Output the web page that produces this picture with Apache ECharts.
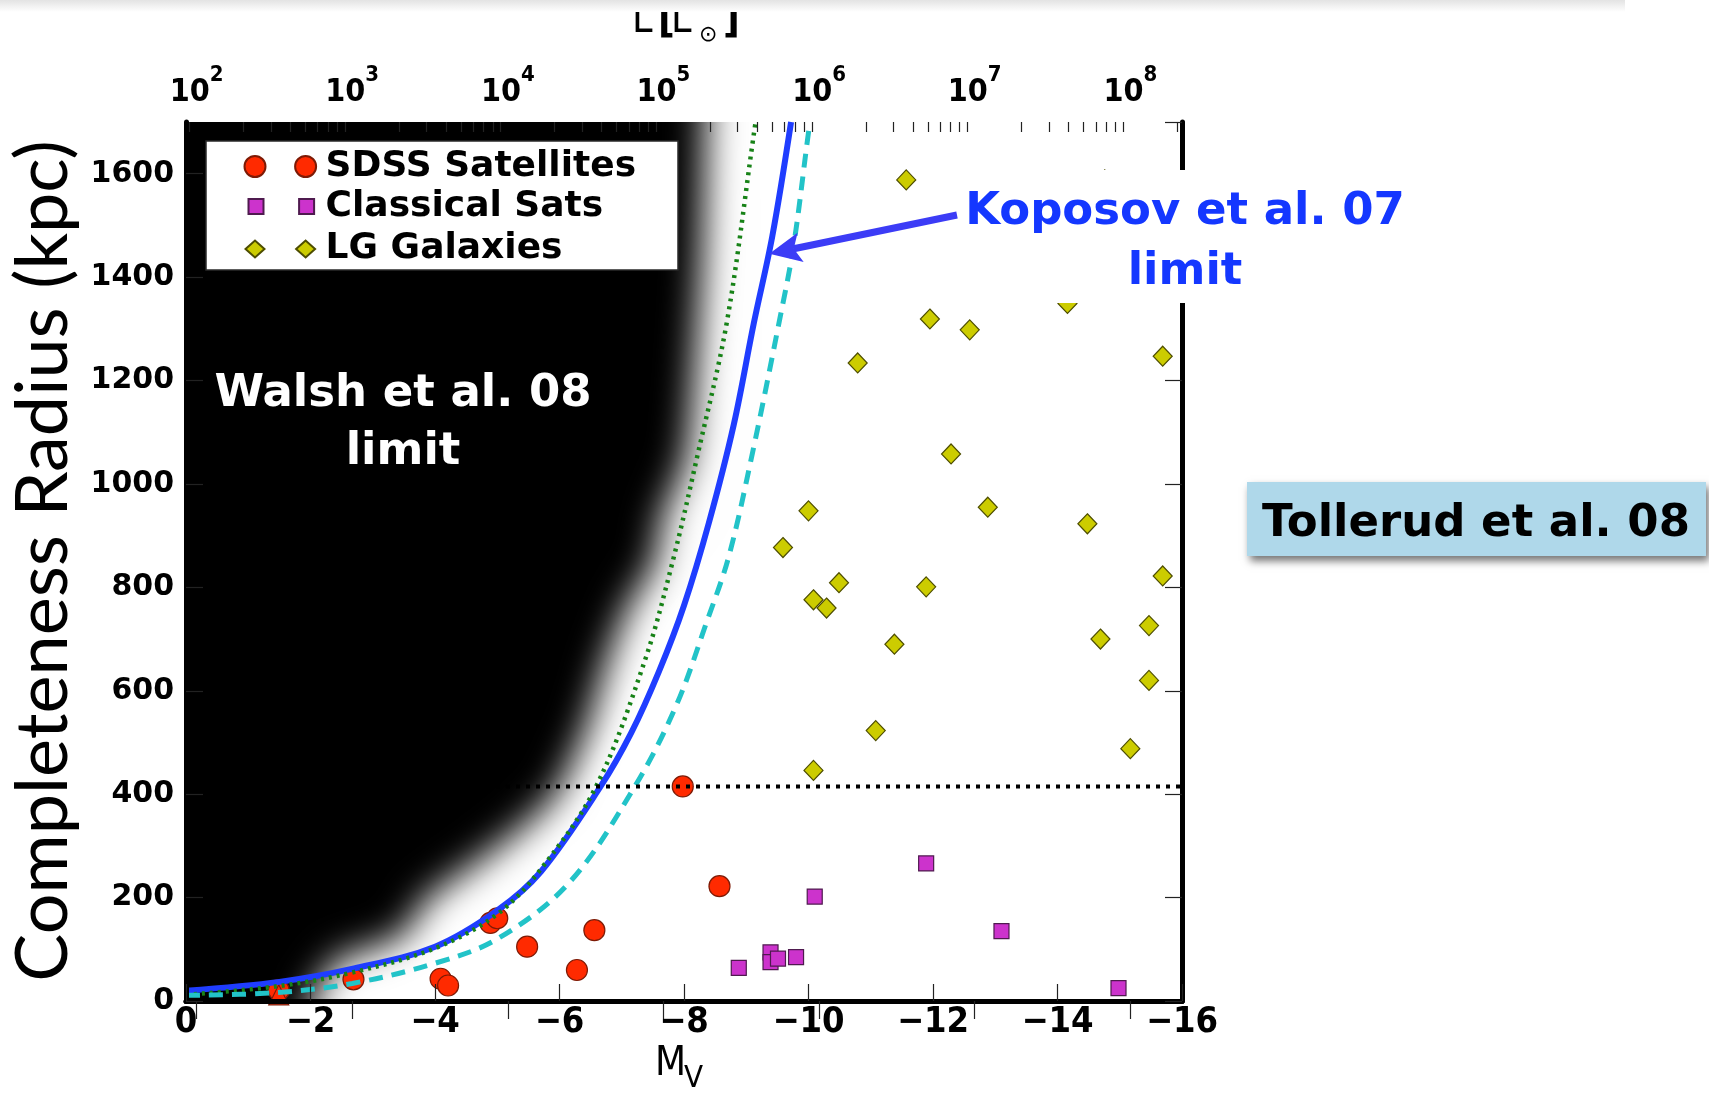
<!DOCTYPE html>
<html>
<head>
<meta charset="utf-8">
<title>Completeness radius vs. M_V</title>
<script src="https://cdn.jsdelivr.net/npm/echarts@6/dist/echarts.min.js"></script>
<style>
  html, body { margin: 0; padding: 0; background: #ffffff; }
  #chart { width: 1709px; height: 1093px; }
</style>
</head>
<body>
<div id="chart"></div>
<script>
// ---- data (absolute magnitude M_V, completeness radius in kpc) ----
const M_SUN_V = 4.83;            // solar absolute V magnitude, links M_V to L
const MV_RANGE = [-16, 0];
const R_RANGE = [0, 1700];
const MV_TICK_STEP = 2;
const R_TICK_STEP = 200;
const LOG_L_MAJOR = [2, 3, 4, 5, 6, 7, 8];

const sdssSatellites = [
  [-1.49, 21], [-2.69, 42], [-4.09, 43], [-4.21, 30], [-4.89, 151], [-5.00, 160],
  [-5.48, 105], [-6.28, 60], [-6.56, 137], [-7.98, 415], [-8.57, 222]
];
const sdssLowerLimit = [[-1.49, 12]];
const classicalSats = [
  [-8.88, 64], [-9.39, 94], [-9.39, 75], [-9.51, 82], [-9.80, 85],
  [-10.10, 202], [-11.89, 266], [-13.10, 135], [-14.98, 25]
];
const lgGalaxies = [
  [-11.57, 1588], [-14.76, 1588], [-11.95, 1319], [-12.59, 1298], [-10.79, 1234],
  [-15.69, 1247], [-14.16, 1349], [-12.29, 1058], [-10.00, 948], [-12.88, 955],
  [-14.48, 923], [-9.59, 877], [-10.49, 809], [-11.89, 801], [-15.69, 822],
  [-10.08, 776], [-10.29, 760], [-11.38, 690], [-14.69, 700], [-15.47, 726],
  [-15.47, 620], [-11.08, 523], [-15.17, 488], [-10.08, 446]
];

// Koposov et al. 07 limit (solid) and its two companion curves
const koposovLimit = [
  [0, 20], [-1.5, 37], [-2.7, 63], [-4.0, 105], [-5.0, 175], [-5.7, 250],
  [-6.65, 413], [-7.15, 518], [-7.6, 638], [-8.0, 765], [-8.4, 925],
  [-8.8, 1115], [-9.12, 1310], [-9.42, 1480], [-9.72, 1700]
];
const dottedLimit = [
  [0, 12], [-1.5, 29], [-2.7, 56], [-4.0, 102], [-5.0, 168], [-5.7, 255],
  [-6.58, 413], [-7.37, 658], [-7.82, 851], [-8.22, 1057], [-8.69, 1314],
  [-9.12, 1675], [-9.15, 1700]
];
const dashedLimit = [
  [0, 11], [-1.43, 16], [-2.67, 34], [-4.0, 73], [-5.0, 120], [-6.15, 228],
  [-7.2, 413], [-7.87, 570], [-8.37, 735], [-8.72, 860], [-9.1, 1060],
  [-9.54, 1320], [-9.76, 1460], [-10.0, 1680], [-10.03, 1700]
];
const RADIUS_CUT = 415;
const KOPOSOV_ARROW_AT = [-9.37, 1445];

// Walsh et al. 08 limit: half-tone edge of the excluded region, plus its faint outer rim
const walshEdge = [
  [-2.0, 0], [-2.2, 40], [-2.45, 80], [-3.2, 110], [-3.6, 140], [-3.75, 180],
  [-4.0, 210], [-4.7, 270], [-5.35, 330], [-5.95, 400], [-6.45, 530],
  [-6.75, 650], [-7.1, 760], [-7.55, 850], [-7.65, 930], [-8.05, 1050],
  [-8.2, 1250], [-8.3, 1450], [-8.35, 1700]
];
const walshRim = [
  [-3.0, 0], [-4.3, 80], [-5.85, 210], [-7.15, 400], [-8.2, 660],
  [-9.4, 850], [-10.0, 1100], [-10.0, 1700]
];

// ---- styling ----
const CONDENSED = "'DejaVu Sans Condensed', 'Liberation Sans Narrow', 'DejaVu Sans', sans-serif";
const DEJAVU = "'DejaVu Sans', 'Liberation Sans', sans-serif";
const HUMANIST = "Lato, 'Open Sans', sans-serif";
const GRID = { left: 186, top: 122, width: 996, height: 879 };
const SHIFT = 4000;   // the shaded shape is moved off-canvas; only its blurred shadow is painted

const logL = (mv) => (M_SUN_V - mv) / 2.5;
const LOG_L_RANGE = [logL(MV_RANGE[1]), logL(MV_RANGE[0])];

const LOG_L_MINOR = [];
for (let d = 1; d <= 8; d++) {
  for (let k = 2; k <= 9; k++) {
    const v = d + Math.log10(k);
    if (v > LOG_L_RANGE[0] && v < LOG_L_RANGE[1]) LOG_L_MINOR.push(v);
  }
}

function shadeItem(edge, color, blur) {
  return function (params, api) {
    if (params.dataIndex !== 0) return null;
    const n = edge.length;
    const pts = [api.coord([edge[0][0], R_RANGE[0] - 300])];
    edge.forEach((p) => pts.push(api.coord(p)));
    pts.push(api.coord([edge[n - 1][0], R_RANGE[1] + 400]));
    pts.push(api.coord([MV_RANGE[1] + 3, R_RANGE[1] + 400]));
    pts.push(api.coord([MV_RANGE[1] + 3, R_RANGE[0] - 300]));
    return {
      type: 'polygon',
      x: SHIFT,
      shape: { points: pts, smooth: 0.2 },
      style: {
        fill: color,
        shadowColor: color,
        shadowBlur: blur,
        shadowOffsetX: -SHIFT,
        shadowOffsetY: 0
      }
    };
  };
}

const minus = (v) => (v < 0 ? '\u2212' + (-v) : String(v));

const frameLine = { show: true, lineStyle: { color: '#000', width: 5 } };
const innerTick = (len) => ({ show: true, inside: true, length: len, lineStyle: { color: '#222', width: 1.2 } });

const option = {
  animation: false,
  backgroundColor: '#ffffff',
  grid: GRID,
  xAxis: [
    {
      type: 'value', position: 'bottom', inverse: true,
      min: MV_RANGE[0], max: MV_RANGE[1], interval: MV_TICK_STEP,
      axisLine: frameLine, axisTick: innerTick(17), splitLine: { show: false },
      axisLabel: {
        margin: 4, color: '#000', fontFamily: CONDENSED, fontWeight: 'bold', fontSize: 36,
        formatter: minus
      },
      z: 10
    },
    {
      type: 'value', position: 'top',
      min: LOG_L_RANGE[0], max: LOG_L_RANGE[1], splitNumber: 6,
      axisLine: frameLine,
      axisTick: Object.assign(innerTick(18), { customValues: LOG_L_MAJOR }),
      splitLine: { show: false },
      axisLabel: {
        customValues: LOG_L_MAJOR, margin: 0, color: '#000',
        formatter: (v) => (Number.isInteger(v) ? '{b|10}{s|' + v + '}' : ''),
        rich: {
          b: { fontFamily: CONDENSED, fontWeight: 'bold', fontSize: 32, color: '#000' },
          s: { fontFamily: CONDENSED, fontWeight: 'bold', fontSize: 22, color: '#000', padding: [0, 0, 36, 0] }
        }
      },
      z: 10
    },
    {
      type: 'value', position: 'top',
      min: LOG_L_RANGE[0], max: LOG_L_RANGE[1],
      axisLine: { show: false },
      axisTick: Object.assign(innerTick(10), { customValues: LOG_L_MINOR }),
      axisLabel: { show: false },
      splitLine: { show: false },
      z: 10
    }
  ],
  yAxis: [
    {
      type: 'value', position: 'left',
      min: R_RANGE[0], max: R_RANGE[1], interval: R_TICK_STEP,
      axisLine: frameLine, axisTick: innerTick(17), splitLine: { show: false },
      axisLabel: {
        margin: 12, color: '#000', fontFamily: DEJAVU, fontWeight: 'bold', fontSize: 30,
        showMaxLabel: false, formatter: (v) => String(v)
      },
      z: 10
    },
    {
      type: 'value', position: 'right',
      min: R_RANGE[0], max: R_RANGE[1], interval: R_TICK_STEP,
      axisLine: frameLine, axisTick: innerTick(17), splitLine: { show: false },
      axisLabel: { show: false },
      z: 10
    }
  ],
  legend: [
    {
      data: [{ name: 'SDSS Satellites',
        icon: 'path://M0,10.5A10.5,10.5,0,1,1,21,10.5A10.5,10.5,0,1,1,0,10.5Z M50.6,10.5A10.5,10.5,0,1,1,71.6,10.5A10.5,10.5,0,1,1,50.6,10.5Z' }],
      left: 243.5, top: 166.5 - 18, itemWidth: 71.6, itemHeight: 21,
      padding: 0, selectedMode: false, z: 60,
      textStyle: { fontFamily: DEJAVU, fontWeight: 'bold', fontSize: 36, lineHeight: 36, color: '#000', padding: [0, 0, 0, 4.5] }
    },
    {
      data: [{ name: 'Classical Sats',
        icon: 'path://M0,0H15V15H0Z M50.6,0H65.6V15H50.6Z' }],
      left: 247.5, top: 206.5 - 18, itemWidth: 65.6, itemHeight: 15,
      padding: 0, selectedMode: false, z: 60,
      textStyle: { fontFamily: DEJAVU, fontWeight: 'bold', fontSize: 36, lineHeight: 36, color: '#000', padding: [0, 0, 0, 6.5] }
    },
    {
      data: [{ name: 'LG Galaxies',
        icon: 'path://M0,8.5L9.5,0L19,8.5L9.5,17Z M50.6,8.5L60.1,0L69.6,8.5L60.1,17Z' }],
      left: 244.5, top: 249 - 18, itemWidth: 69.6, itemHeight: 17,
      padding: 0, selectedMode: false, z: 60,
      textStyle: { fontFamily: DEJAVU, fontWeight: 'bold', fontSize: 36, lineHeight: 36, color: '#000', padding: [0, 0, 0, 5.5] }
    }
  ],
  series: [
    {
      name: 'Walsh 08 rim', type: 'custom', clip: true, silent: true,
      data: walshRim, renderItem: shadeItem(walshRim, 'rgba(0,0,0,0.075)', 40)
    },
    {
      name: 'Walsh 08 limit', type: 'custom', clip: true, silent: true,
      data: walshEdge, renderItem: shadeItem(walshEdge, '#000000', 36)
    },
    {
      name: 'Koposov 07 limit', type: 'line', data: koposovLimit, smooth: 0.35,
      showSymbol: false, clip: true, silent: true,
      lineStyle: { color: '#1f3dff', width: 6 }
    },
    {
      name: 'dotted limit', type: 'line', data: dottedLimit, smooth: 0.35,
      showSymbol: false, clip: true, silent: true,
      lineStyle: { color: '#178217', width: 4.5, type: [3, 5], cap: 'butt' }
    },
    {
      name: 'dashed limit', type: 'line', data: dashedLimit, smooth: 0.35,
      showSymbol: false, clip: true, silent: true,
      lineStyle: { color: '#22c3c8', width: 5, type: [14, 9] }
    },
    {
      name: 'radius cut', type: 'line',
      data: [[MV_RANGE[1], RADIUS_CUT], [MV_RANGE[0], RADIUS_CUT]],
      showSymbol: false, clip: true, silent: true,
      lineStyle: { color: '#000', width: 4, type: [4, 6] }
    },
    {
      name: 'SDSS Satellites', type: 'scatter',
      data: sdssSatellites.map((p) => ({ value: p }))
        .concat(sdssLowerLimit.map((p) => ({ value: p, symbol: 'triangle', symbolSize: 20 }))),
      symbol: 'circle', symbolSize: 21,
      itemStyle: { color: '#ff2a00', borderColor: '#7d1a05', borderWidth: 1.2, opacity: 1 }
    },
    {
      name: 'Classical Sats', type: 'scatter', data: classicalSats,
      symbol: 'rect', symbolSize: 15,
      itemStyle: { color: '#cc33cc', borderColor: '#4f1a4f', borderWidth: 1.2, opacity: 1 }
    },
    {
      name: 'LG Galaxies', type: 'scatter', data: lgGalaxies,
      symbol: 'diamond', symbolSize: [19, 20],
      itemStyle: { color: '#cccc00', borderColor: '#4d4d00', borderWidth: 1.2, opacity: 1 }
    }
  ]
};

const chart = echarts.init(document.getElementById('chart'), null, { renderer: 'canvas', width: 1709, height: 1093 });
chart.setOption(option);

// ---- annotations ----
const tip = chart.convertToPixel({ xAxisIndex: 0, yAxisIndex: 0 }, KOPOSOV_ARROW_AT);
const tail = [957, 215];
const dx = tail[0] - tip[0], dy = tail[1] - tip[1];
const len = Math.hypot(dx, dy);
const ux = dx / len, uy = dy / len;
const headLen = 32, headHalf = 15;
const base = [tip[0] + ux * headLen, tip[1] + uy * headLen];
const notch = [tip[0] + ux * (headLen - 7), tip[1] + uy * (headLen - 7)];
const arrowColor = '#3c3cf6';

chart.setOption({
  graphic: [
    { type: 'rect', id: 'topShade', z: 120, silent: true,
      shape: { x: 0, y: 0, width: 1625, height: 12 },
      style: { fill: new echarts.graphic.LinearGradient(0, 0, 0, 1, [
        { offset: 0, color: '#e3e3e3' }, { offset: 1, color: '#ffffff' }]) } },
    { type: 'rect', id: 'legendBox', z: 50, silent: true,
      shape: { x: 206, y: 141, width: 472, height: 129 },
      style: { fill: '#ffffff', stroke: '#2a2a2a', lineWidth: 1.5 } },
    // luminosity axis title
    { type: 'text', id: 'lt1', z: 110, silent: true, x: 632, y: 21,
      style: { text: 'L', font: "41px " + CONDENSED, fill: '#000', align: 'left', verticalAlign: 'middle' } },
    { type: 'text', id: 'lt2', z: 110, silent: true, x: 658, y: 21,
      style: { text: '[', font: "bold 41px " + CONDENSED, fill: '#000', align: 'left', verticalAlign: 'middle' } },
    { type: 'text', id: 'lt3', z: 110, silent: true, x: 671, y: 21,
      style: { text: 'L', font: "41px " + CONDENSED, fill: '#000', align: 'left', verticalAlign: 'middle' } },
    { type: 'text', id: 'lt4', z: 110, silent: true, x: 699, y: 35,
      style: { text: '\u2299', font: "22px 'DejaVu Sans'", fill: '#000', align: 'left', verticalAlign: 'middle' } },
    { type: 'text', id: 'lt5', z: 110, silent: true, x: 723, y: 21,
      style: { text: ']', font: "bold 41px " + CONDENSED, fill: '#000', align: 'left', verticalAlign: 'middle' } },
    // magnitude axis title
    { type: 'text', id: 'mv1', z: 110, silent: true, x: 655, y: 1064.5,
      style: { text: 'M', font: "40px " + CONDENSED, fill: '#000', align: 'left', verticalAlign: 'middle' } },
    { type: 'text', id: 'mv2', z: 110, silent: true, x: 684, y: 1079,
      style: { text: 'V', font: "31px " + CONDENSED, fill: '#000', align: 'left', verticalAlign: 'middle' } },
    // radius axis title
    { type: 'text', id: 'rt', z: 110, silent: true, x: 44, y: 561, rotation: Math.PI / 2,
      style: { text: 'Completeness Radius (kpc)', font: "72px " + HUMANIST, fill: '#000', align: 'center', verticalAlign: 'middle' } },
    // Walsh label
    { type: 'text', id: 'walsh', z: 110, silent: true, x: 403, y: 423,
      style: { text: 'Walsh et al. 08\nlimit', font: "bold 45px " + DEJAVU, lineHeight: 58, fill: '#ffffff', align: 'center', verticalAlign: 'middle' } },
    // Koposov label on its white panel
    { type: 'rect', id: 'kopBox', z: 100, silent: true,
      shape: { x: 950, y: 170, width: 460, height: 133 },
      style: { fill: '#ffffff' } },
    { type: 'text', id: 'kop', z: 110, silent: true, x: 1185, y: 242,
      style: { text: 'Koposov et al. 07\nlimit', font: "bold 45px " + DEJAVU, lineHeight: 60, fill: '#1437ff', align: 'center', verticalAlign: 'middle' } },
    { type: 'line', id: 'arrowShaft', z: 110, silent: true,
      shape: { x1: tail[0], y1: tail[1], x2: notch[0], y2: notch[1] },
      style: { stroke: arrowColor, lineWidth: 7 } },
    { type: 'polygon', id: 'arrowHead', z: 110, silent: true,
      shape: { points: [
        tip,
        [base[0] - uy * headHalf, base[1] + ux * headHalf],
        notch,
        [base[0] + uy * headHalf, base[1] - ux * headHalf]
      ] },
      style: { fill: arrowColor } },
    // Tollerud tag
    { type: 'rect', id: 'tolBox', z: 100, silent: true,
      shape: { x: 1247, y: 482, width: 459, height: 74 },
      style: { fill: '#afd8ea', shadowColor: 'rgba(0,0,0,0.55)', shadowBlur: 8, shadowOffsetX: 3, shadowOffsetY: 5 } },
    { type: 'text', id: 'tol', z: 110, silent: true, x: 1262, y: 524,
      style: { text: 'Tollerud et al. 08', font: "bold 45px " + DEJAVU, fill: '#000', align: 'left', verticalAlign: 'middle' } }
  ]
});
</script>
</body>
</html>
